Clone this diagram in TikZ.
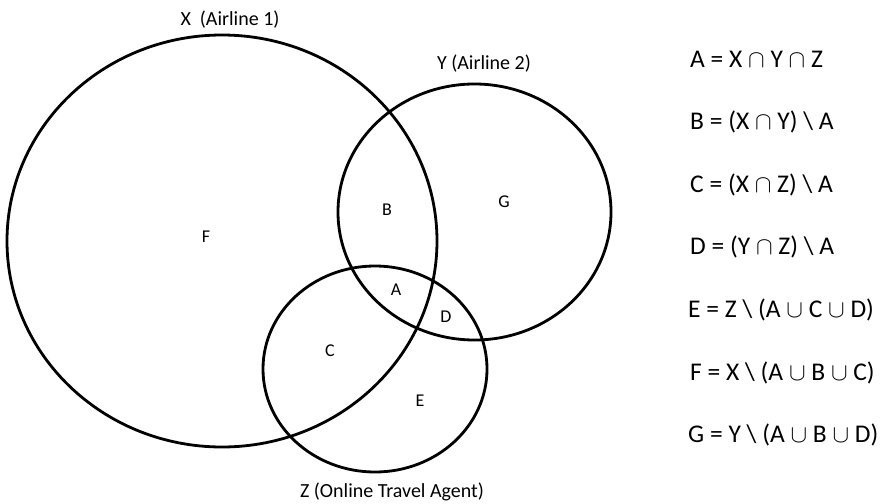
\documentclass[tikz,border=0pt]{standalone}
\usepackage{fontspec}
\setmainfont{Carlito}
\begin{document}
\begin{tikzpicture}[x=1pt,y=-1pt,
  venn/.style={line width=2.8pt, draw=black},
  setlabel/.style={font=\fontsize{20}{22}\selectfont, inner sep=0pt},
  reglabel/.style={font=\fontsize{18}{20}\selectfont, inner sep=0pt},
  eqlabel/.style={font=\fontsize{25.5}{27}\selectfont, inner sep=0pt, anchor=west}]
\useasboundingbox (0,0) rectangle (893,503);
% circles
\draw[venn] (222,241) ellipse [x radius=215, y radius=206];
\draw[venn] (474.5,212) ellipse [x radius=136.5, y radius=128];
\draw[venn] (375,369) ellipse [x radius=112, y radius=103];
% set labels
\node[setlabel] (lx) at (230,19.5) {X\ \ (Airline 1)};
\node[setlabel] (ly) at (484,64) {Y (Airline 2)};
\node[setlabel] (lz) at (392,492) {Z (Online Travel Agent)};
% region labels
\node[reglabel] (rf) at (206,237) {F};
\node[reglabel] (rb) at (387,210) {B};
\node[reglabel] (rg) at (504,202) {G};
\node[reglabel] (ra) at (396,290) {A};
\node[reglabel] (rd) at (446,317) {D};
\node[reglabel] (rc) at (330,351) {C};
\node[reglabel] (re) at (420,401) {E};
% equations
\node[eqlabel] (ea) at (690,59.5) {A = X $\cap$ Y $\cap$ Z};
\node[eqlabel] (eb) at (690,122) {B = (X $\cap$ Y) \textbackslash\ A};
\node[eqlabel] (ec) at (690,184.5) {C = (X $\cap$ Z) \textbackslash\ A};
\node[eqlabel] (ed) at (690,247) {D = (Y $\cap$ Z) \textbackslash\ A};
\node[eqlabel] (ee) at (688,310) {E = Z \textbackslash\ (A $\cup$ C $\cup$ D)};
\node[eqlabel] (ef) at (690,372.5) {F = X \textbackslash\ (A $\cup$ B $\cup$ C)};
\node[eqlabel] (eg) at (688,435) {G = Y \textbackslash\ (A $\cup$ B $\cup$ D)};
\end{tikzpicture}
\end{document}
